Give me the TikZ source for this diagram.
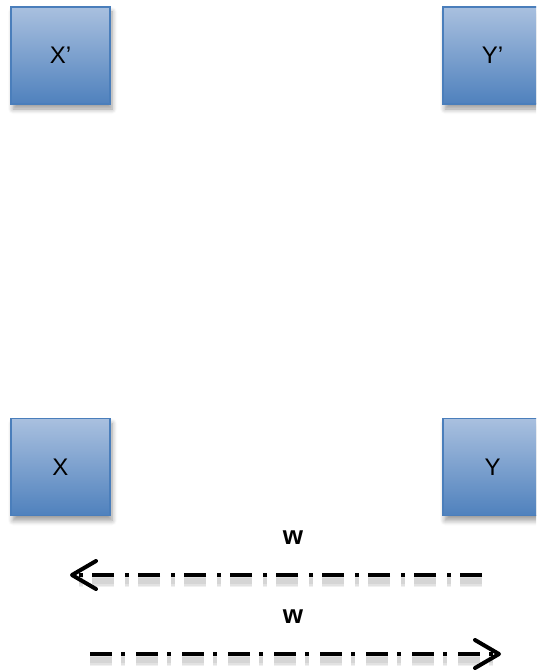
\documentclass[tikz,border=0pt]{standalone}
\usepackage{fontspec}
\setmainfont{Liberation Sans}
\usetikzlibrary{arrows.meta,shadows.blur}
\definecolor{boxtop}{HTML}{A9C0DF}
\definecolor{boxbot}{HTML}{4F81BD}
\definecolor{boxline}{HTML}{4A7EBB}
\tikzset{
  varbox/.style={draw=boxline, line width=1.3pt, top color=boxtop, bottom color=boxbot,
    minimum width=99pt, minimum height=97pt, inner sep=0pt,
    font=\fontsize{24}{28}\selectfont,
    blur shadow={shadow xshift=2pt, shadow yshift=-5pt, shadow blur steps=6, shadow blur radius=5pt, shadow opacity=40}},
  wlabel/.style={font=\bfseries\fontsize{26}{30}\selectfont, inner sep=0pt},
  dpat/.style={dash pattern=on 22pt off 9pt on 4pt off 11pt},
  dashline/.style={line width=4.5pt, dpat,
    -{Straight Barb[length=24pt,width=28pt,line width=4pt,line cap=round,line join=round]}},
  dashshadow/.style={dpat, draw=black, opacity=0.06}
}
\begin{document}
\begin{tikzpicture}[x=1pt,y=1pt]
\useasboundingbox (0,0) rectangle (536,-671);
\clip (0,0) rectangle (536,-671);
\node[varbox] (xp) at (60.5,-55.5) {X’};
\node[varbox] (yp) at (492.5,-55.5) {Y’};
\node[varbox] (x) at (60.5,-467) {X};
\node[varbox] (y) at (492.5,-467) {Y};
\node[wlabel] (w1) at (293,-538) {w};
\node[wlabel] (w2) at (293,-617) {w};
\coordinate (a1s) at (482,-575);
\coordinate (a1e) at (70,-575);
\coordinate (a2s) at (90,-654);
\coordinate (a2e) at (501,-654);
\foreach \lw in {12,9,6}{
  \draw[dashshadow, line width=\lw pt] ([yshift=-6pt]a1s) -- ([xshift=8pt,yshift=-6pt]a1e);
  \draw[dashshadow, line width=\lw pt] ([yshift=-6pt]a2s) -- ([xshift=-8pt,yshift=-6pt]a2e);
}
\draw[dashline] (a1s) -- (a1e);
\draw[dashline] (a2s) -- (a2e);
\end{tikzpicture}
\end{document}
